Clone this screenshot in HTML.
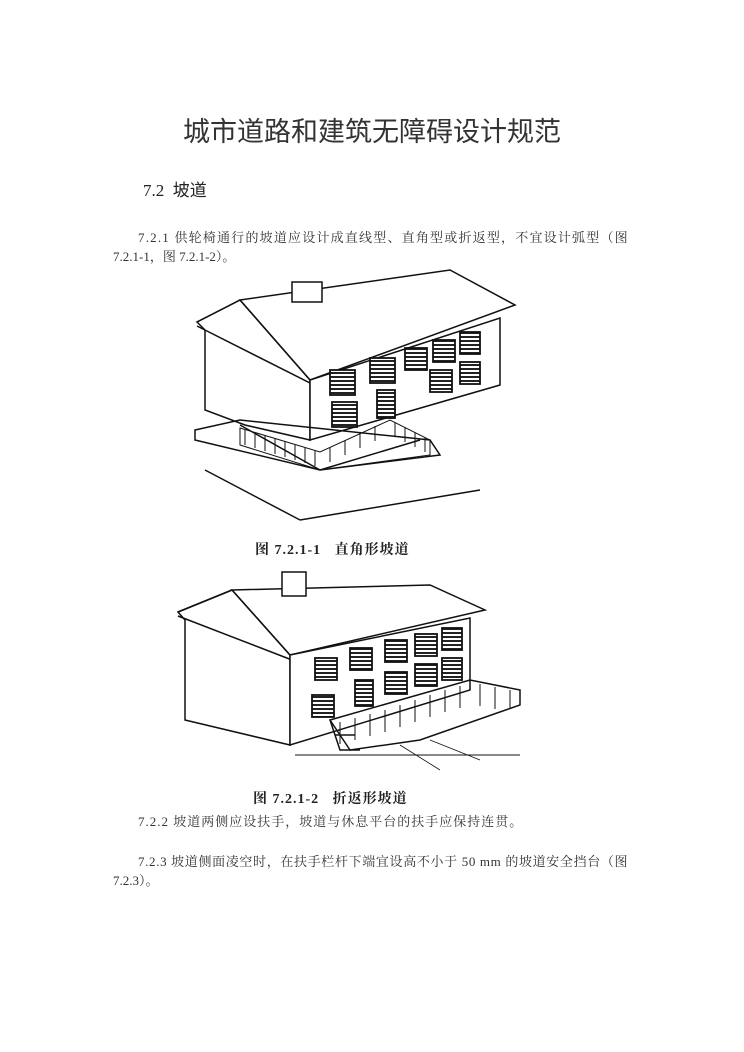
<!DOCTYPE html>
<html><head><meta charset="utf-8"><style>
body{margin:0;width:744px;height:1052px;background:#fff;position:relative;font-family:"Liberation Serif","Noto Serif CJK SC",serif;color:#222}
.t{position:absolute;white-space:nowrap}
</style></head><body>
<svg width="0" height="0" style="position:absolute"><defs>
<pattern id="w" width="6" height="4" patternUnits="userSpaceOnUse"><rect width="6" height="4" fill="#fff"/><rect width="6" height="2" fill="#222"/></pattern>
</defs></svg>
<div class="t" style="left:0;width:744px;text-align:center;top:110px;font-size:27px;font-family:'Liberation Sans','Noto Sans CJK SC',sans-serif;color:#333">城市道路和建筑无障碍设计规范</div>
<div class="t" style="left:143px;top:176px;font-size:17px;font-family:'Liberation Serif','Noto Sans CJK SC',serif">7.2&nbsp; 坡道</div>
<div class="t" style="left:138px;top:227px;font-size:13px;color:#333;letter-spacing:1.2px">7.2.1 供轮椅通行的坡道应设计成直线型、直角型或折返型，不宜设计弧型（图</div>
<div class="t" style="left:113px;top:246px;font-size:13px;color:#333">7.2.1-1，图 7.2.1-2）。</div>

<svg class="t" style="left:190px;top:262px" width="340" height="265" viewBox="190 262 340 265" fill="none" stroke="#111" stroke-width="1.5">
<polygon points="197,322 240,300 310,380 310,440 245,425 205,410 205,330" fill="#fff"/>
<polygon points="240,300 450,270 515,305 310,380"/>
<line x1="197" y1="322" x2="240" y2="300"/><line x1="197" y1="326" x2="312" y2="384"/>
<polygon points="310,380 500,318 500,385 310,440" fill="#fff"/>
<rect x="292" y="282" width="30" height="20" fill="#fff"/>
<g stroke-width="1.8" fill="url(#w)">
<rect x="330" y="370" width="25" height="25"/><rect x="370" y="358" width="25" height="25"/><rect x="405" y="348" width="22" height="22"/><rect x="433" y="340" width="22" height="22"/><rect x="460" y="332" width="20" height="22"/>
<rect x="332" y="402" width="25" height="25"/><rect x="430" y="370" width="22" height="22"/><rect x="460" y="362" width="20" height="22"/>
<rect x="377" y="390" width="18" height="28"/>
</g>
<polygon points="195,430 240,420 430,440 440,455 320,470 195,440"/>
<line x1="240" y1="425" x2="320" y2="470" /><line x1="320" y1="470" x2="420" y2="440"/>
<path d="M240,428 L320,452 L390,420 L430,440 L430,455 L320,470 L240,445Z" stroke-width="1"/>
<g stroke-width="1"><path d="M245,430v15M255,433v15M265,436v15M275,439v15M285,442v15M295,445v15M305,448v15M315,451v15M330,447v15M345,440v15M360,433v15M375,426v15M395,422v15M405,427v15M415,432v15M425,437v15"/></g>
<line x1="205" y1="470" x2="300" y2="520"/><line x1="300" y1="520" x2="480" y2="490"/>
</svg>
<div class="t" style="left:255px;top:539px;font-size:14px;font-weight:bold;letter-spacing:1px">图 7.2.1-1&nbsp;&nbsp; 直角形坡道</div>

<svg class="t" style="left:170px;top:565px" width="360" height="215" viewBox="170 565 360 215" fill="none" stroke="#111" stroke-width="1.5">
<polygon points="178,612 232,590 290,655 290,745 185,720 185,620" fill="#fff"/>
<polygon points="232,590 430,585 485,610 290,655"/>
<line x1="178" y1="612" x2="232" y2="590"/><line x1="178" y1="616" x2="292" y2="660"/>
<polygon points="290,655 470,618 470,690 290,745" fill="#fff"/>
<rect x="282" y="572" width="24" height="24" fill="#fff"/>
<g stroke-width="1.8" fill="url(#w)">
<rect x="315" y="658" width="22" height="22"/><rect x="350" y="648" width="22" height="22"/><rect x="385" y="640" width="22" height="22"/><rect x="415" y="634" width="22" height="22"/><rect x="442" y="628" width="20" height="22"/>
<rect x="312" y="695" width="22" height="22"/><rect x="385" y="672" width="22" height="22"/><rect x="415" y="664" width="22" height="22"/><rect x="442" y="658" width="20" height="22"/>
<rect x="355" y="680" width="18" height="26"/>
</g>
<path d="M330,720 L470,680 L520,690 L520,705 L420,740 L350,750Z"/>
<g stroke-width="1"><path d="M340,722v22M355,718v22M370,714v22M385,710v22M400,705v22M415,700v22M430,695v22M445,690v22M460,686v22M480,684v22M495,687v22M510,690v18"/></g>
<path d="M330,720 l10,30 l20,0 M335,735h20"/>
<line x1="295" y1="755" x2="520" y2="755" stroke-width="1"/>
<path d="M400,745 L440,770 M430,740 L480,760" stroke-width="0.8"/>
</svg>
<div class="t" style="left:253px;top:788px;font-size:14px;font-weight:bold;letter-spacing:1px">图 7.2.1-2&nbsp;&nbsp; 折返形坡道</div>

<div class="t" style="left:138px;top:811px;font-size:13px;color:#333;letter-spacing:1px">7.2.2 坡道两侧应设扶手，坡道与休息平台的扶手应保持连贯。</div>
<div class="t" style="left:138px;top:851px;font-size:13px;color:#333;letter-spacing:0.65px">7.2.3 坡道侧面凌空时，在扶手栏杆下端宜设高不小于 50 mm 的坡道安全挡台（图</div>
<div class="t" style="left:113px;top:870px;font-size:13px;color:#333">7.2.3）。</div>
</body></html>
